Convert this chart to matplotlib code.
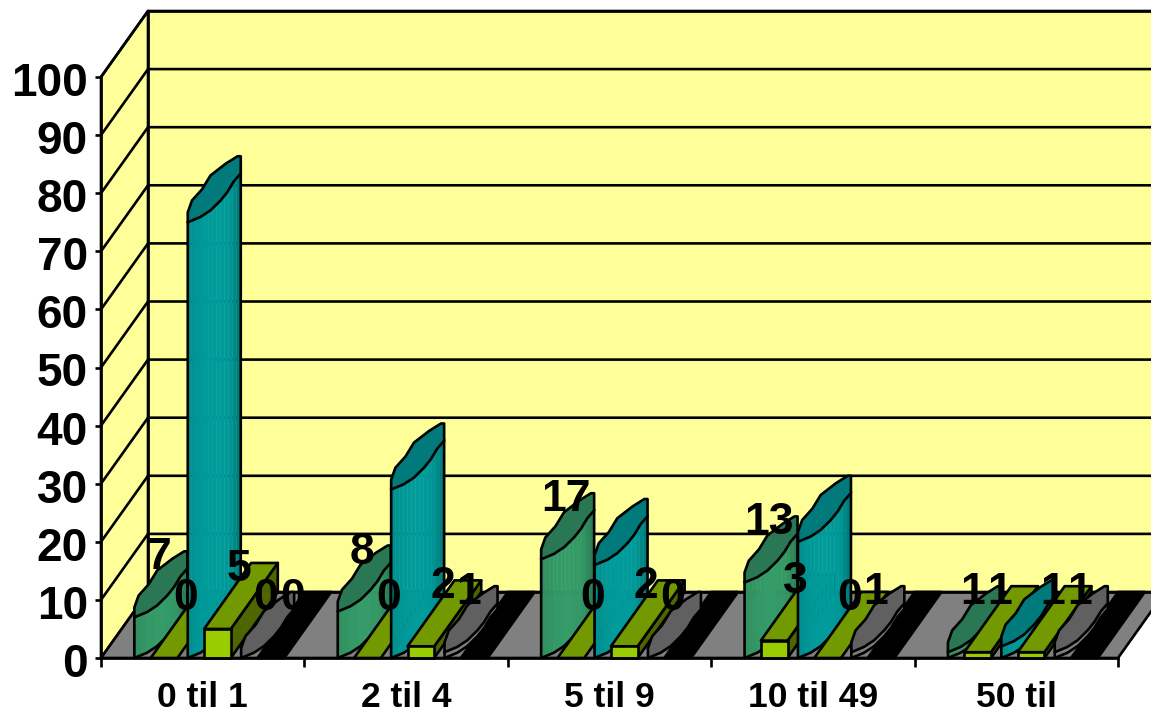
import numpy as np
import matplotlib
matplotlib.use("Agg")
import matplotlib.pyplot as plt
from matplotlib.colors import to_rgb
from matplotlib.transforms import ScaledTranslation

plt.rcParams['font.family'] = ['Liberation Sans', 'DejaVu Sans']

categories = ["0 til 1", "2 til 4", "5 til 9", "10 til 49", "50 til"]
value_ticks = list(range(0, 101, 10))

# one list per series, left to right inside a category
series1 = [7, 8, 17, 13, 1]
series2 = [0, 0, 0, 3, 1]
series3 = [75, 29, 16, 20, 2]
series4 = [5, 2, 2, 0, 1]
series5 = [0, 1, 0, 1, 1]
series6 = [0, 0, 0, 0, 0]

# what is printed above the bars (teal has none, black only once)
labels1 = ["7", "8", "17", "13", "1"]
labels2 = ["0", "0", "0", "3", "1"]
labels4 = ["5", "2", "2", "0", "1"]
labels5 = ["0", "1", "0", "1", "1"]
labels6 = ["0", None, None, None, None]

WIDTH, HEIGHT = 1151, 713
PX_X = 1017 / 5      # pixels per category
PX_Y = 581 / 100     # pixels per value unit
DEPTH_X = 47 / PX_X
DEPTH_Y = 66 / PX_Y
BAR_W = 26.7 / PX_X
BAR_START = 23 / PX_X
LENS_W = 53 / PX_X

# outline of the column top, 0..1 across and 0..1 up (style only, the old chart
# draws these as rough polygons and not as clean ellipses)
LENS_BACK_U = [0, 0, .08, .27, .43, .72, .94, 1]
LENS_BACK_V = [0, .15, .33, .50, .71, .89, 1, 1]
LENS_FRONT_U = [0, .24, .43, .62, .75, .87, 1]
LENS_FRONT_V = [0, .08, .18, .33, .46, .62, .74]

WALL = "#FFFF99"
FLOOR = "#808080"
LW = 1.9

fig = plt.figure(figsize=(WIDTH / 100, HEIGHT / 100), dpi=100)
fig.patch.set_facecolor("white")
ax = fig.add_axes([101 / WIDTH, (HEIGHT - 658) / HEIGHT, 1017 / WIDTH, 581 / HEIGHT])
ax.set_xlim(0, 5)
ax.set_ylim(0, 100)
ax.patch.set_visible(False)


def poly(xs, ys, color, z, lw=LW, edge="black"):
    ax.fill(xs, ys, facecolor=color, edgecolor=edge, linewidth=lw, zorder=z,
            clip_on=False, joinstyle="round")


def shade(color, u):
    # u 0..1 across the column, darker towards the right edge
    r = np.array(to_rgb(color))
    f = 0.93 + 0.09 * np.sin(np.pi * u) - 0.15 * max(u - 0.8, 0) / 0.2
    return tuple(np.clip(r * f, 0, 1))


def box(x0, value, z, front, top, side):
    if value > 0:
        poly([x0 + BAR_W, x0 + BAR_W + DEPTH_X, x0 + BAR_W + DEPTH_X, x0 + BAR_W],
             [0, DEPTH_Y, value + DEPTH_Y, value], side, z)
    poly([x0, x0 + BAR_W, x0 + BAR_W + DEPTH_X, x0 + DEPTH_X],
         [value, value, value + DEPTH_Y, value + DEPTH_Y], top, z)
    if value > 0:
        poly([x0, x0 + BAR_W, x0 + BAR_W, x0], [0, 0, value, value], front, z)


def cylinder(x0, value, z, front, top):
    left = x0 + BAR_W / 2 + DEPTH_X / 2 - LENS_W / 2
    fu = np.array(LENS_FRONT_U)
    fv = np.array(LENS_FRONT_V)
    fx = left + fu * LENS_W
    fy = fv * DEPTH_Y
    if value > 0:
        # vertical stripes for the column's shading
        cuts = np.linspace(0, 1, 14)
        sx = left + cuts * LENS_W
        sy = np.interp(cuts, fu, fv) * DEPTH_Y
        for k in range(len(cuts) - 1):
            c = shade(front, (cuts[k] + cuts[k + 1]) / 2)
            poly([sx[k], sx[k + 1], sx[k + 1], sx[k]],
                 [sy[k], sy[k + 1], sy[k + 1] + value, sy[k] + value],
                 c, z, lw=0.3, edge=c)
        ax.plot(np.r_[fx[0], fx, fx[-1]], np.r_[fy[0] + value, fy, fy[-1] + value],
                color="black", lw=LW, zorder=z, clip_on=False, solid_joinstyle="round")
    bx = left + np.array(LENS_BACK_U) * LENS_W
    by = np.array(LENS_BACK_V) * DEPTH_Y
    poly(np.r_[bx, fx[::-1][:-1]], np.r_[by, fy[::-1][:-1]] + value, top, z)


# walls and floor, in the same data units as the bars
poly([DEPTH_X, 5.4, 5.4, DEPTH_X], [DEPTH_Y, DEPTH_Y, 100 + DEPTH_Y, 100 + DEPTH_Y], WALL, 1)
poly([0, DEPTH_X, DEPTH_X, 0], [0, DEPTH_Y, 100 + DEPTH_Y, 100], WALL, 1)
for v in value_ticks[1:]:
    ax.plot([0, DEPTH_X, 5.4], [v, v + DEPTH_Y, v + DEPTH_Y], color="black", lw=LW,
            zorder=2, clip_on=False)
poly([0, 5, 5 + DEPTH_X, DEPTH_X], [0, 0, DEPTH_Y, DEPTH_Y], FLOOR, 3)
ax.plot([DEPTH_X, 5.4], [DEPTH_Y, DEPTH_Y], color="black", lw=LW, zorder=3, clip_on=False)

z = 4
for i in range(len(categories)):
    start = i + BAR_START
    # black stripe is under everything else in the row
    box(start + 5 * BAR_W, series6[i], z, "black", "black", "black")
    cylinder(start, series1[i], z + 1, "#339966", "#2A7853")
    box(start + BAR_W, series2[i], z + 2, "#99CC00", "#739900", "#4D6600")
    cylinder(start + 2 * BAR_W, series3[i], z + 3, "#009999", "#007A7A")
    box(start + 3 * BAR_W, series4[i], z + 4, "#99CC00", "#739900", "#4D6600")
    cylinder(start + 4 * BAR_W, series5[i], z + 5, "#808080", "#606060")
    z += 6

# data labels go over all the bars
slots = [(0, series1, labels1), (1, series2, labels2), (3, series4, labels4),
         (4, series5, labels5), (5, series6, labels6)]
for slot, vals, labs in slots:
    for i, lab in enumerate(labs):
        if lab is None:
            continue
        x = i + BAR_START + slot * BAR_W + BAR_W / 2 + DEPTH_X / 2 - 2 / PX_X
        ax.text(x, vals[i] + DEPTH_Y / 2 + 31 / PX_Y, lab, ha="center", va="center_baseline",
                fontsize=32, fontweight="bold", color="black", zorder=100, clip_on=False)

# axes
for name in ["top", "right"]:
    ax.spines[name].set_visible(False)
for name in ["left", "bottom"]:
    ax.spines[name].set_linewidth(LW)
    ax.spines[name].set_zorder(60)
ax.set_axisbelow(False)
ax.set_yticks(value_ticks)
ax.set_yticklabels([str(v) for v in value_ticks], fontsize=33, fontweight="bold")
ax.set_xticks(range(6))
ax.set_xticklabels([])
ax.set_xticks(np.arange(len(categories)) + 0.5, minor=True)
ax.set_xticklabels(categories, minor=True, fontsize=25.5, fontweight="bold")
ax.tick_params(axis="y", length=4.5, width=LW, pad=5)
ax.tick_params(axis="x", which="major", length=6.5, width=LW)
ax.tick_params(axis="x", which="minor", length=0, pad=16.5)

# value labels sit 2 px lower than the ticks
down = ScaledTranslation(0, -2 / 72 * 0.72, fig.dpi_scale_trans)
for t in ax.get_yticklabels():
    t.set_transform(t.get_transform() + down)

fig.savefig("out.png", dpi=100)
